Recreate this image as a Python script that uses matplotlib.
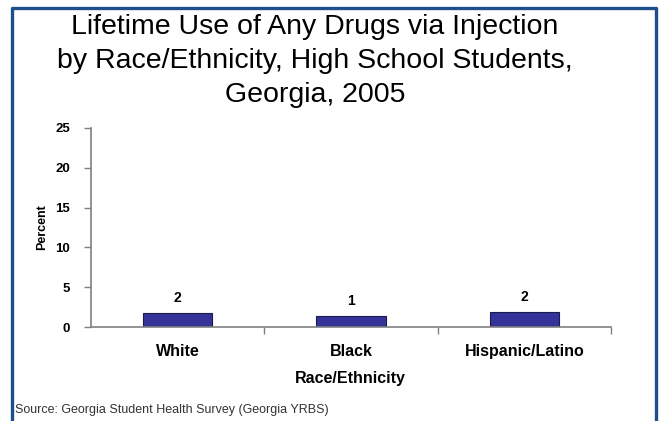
import matplotlib.pyplot as plt

categories = ['White', 'Black', 'Hispanic/Latino']
values = [1.8, 1.4, 1.9]
value_labels = ['2', '1', '2']
yticks = [0, 5, 10, 15, 20, 25]

plt.rcParams['font.family'] = ['Liberation Sans', 'DejaVu Sans']

fig = plt.figure(figsize=(6.6, 4.21), dpi=100)
W, H = 660, 421

# blue frame around the slide (no bottom edge)
fig.add_artist(plt.Line2D([12 / W, 12 / W, 656 / W, 656 / W],
                          [0, 1 - 8 / H, 1 - 8 / H, 0],
                          transform=fig.transFigure, color='#1f4e8c', lw=2.4))

title_lines = ['Lifetime Use of Any Drugs via Injection',
               'by Race/Ethnicity, High School Students,',
               'Georgia, 2005']
for i, line in enumerate(title_lines):
    fig.text(315 / W, 1 - (27 + 34 * i) / H, line, ha='center', va='center', fontsize=20.5)

ax = fig.add_axes([91 / W, 94 / H, 520 / W, 199 / H])
x = list(range(len(categories)))
ax.bar(x, values, width=0.4, color='#333399', edgecolor='#1a1a4d', linewidth=0.8)
for xi, v, lab in zip(x, values, value_labels):
    ax.text(xi, v + 1.0, lab, ha='center', va='bottom', fontsize=10, fontweight='bold')

ax.set_xlim(-0.5, 2.5)
ax.set_ylim(0, 25)
ax.set_yticks(yticks)
ax.set_yticklabels([str(t) for t in yticks], fontsize=9.5, fontweight='bold')
ax.set_xticks([0.5, 1.5, 2.5])
ax.set_xticklabels([])
ax.tick_params(axis='x', direction='out', length=5, color='#808080', width=1)
ax.tick_params(axis='y', direction='out', length=5, color='#808080', width=1, pad=10)
for xi, c in zip(x, categories):
    ax.text(xi, -2.1, c, ha='center', va='top', fontsize=11.5, fontweight='bold')

for s in ['top', 'right']:
    ax.spines[s].set_visible(False)
for s in ['left', 'bottom']:
    ax.spines[s].set_color('#808080')
    ax.spines[s].set_linewidth(1.2)

ax.set_ylabel('Percent', fontsize=9, fontweight='bold', labelpad=5)
fig.text(350 / W, 1 - 379 / H, 'Race/Ethnicity', ha='center', va='center', fontsize=11.5, fontweight='bold')
fig.text(15 / W, 1 - 410 / H, 'Source: Georgia Student Health Survey (Georgia YRBS)', ha='left', va='center', fontsize=9, color='#333333')

fig.savefig('out.png', dpi=100)
plt.close()
